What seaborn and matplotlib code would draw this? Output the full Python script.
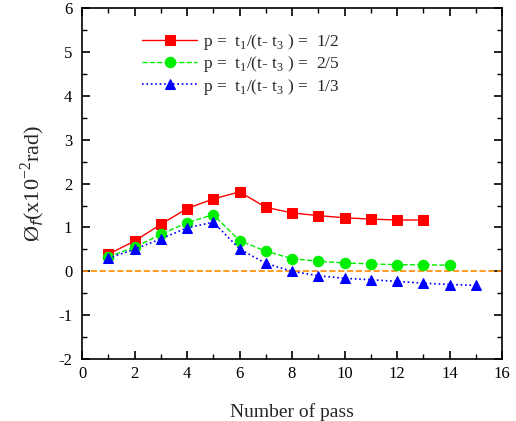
import numpy as np
import pandas as pd
import matplotlib
matplotlib.use("Agg")
import matplotlib.pyplot as plt
import seaborn as sns
from matplotlib.ticker import MultipleLocator

# Values
passes_half = list(range(1, 14))
phi_half = [0.39, 0.69, 1.07, 1.43, 1.65, 1.81, 1.46, 1.33, 1.27, 1.22, 1.19, 1.17, 1.17]

passes_two_fifth = list(range(1, 15))
phi_two_fifth = [0.33, 0.55, 0.84, 1.11, 1.29, 0.70, 0.46, 0.29, 0.23, 0.19, 0.17, 0.15, 0.15, 0.14]

passes_third = list(range(1, 16))
phi_third = [0.30, 0.50, 0.74, 0.99, 1.12, 0.51, 0.18, 0.00, -0.10, -0.16, -0.19, -0.23, -0.27, -0.30, -0.32]

labels = [r"p =  t$_1$/(t- t$_3$ ) =  1/2",
          r"p =  t$_1$/(t- t$_3$ ) =  2/5",
          r"p =  t$_1$/(t- t$_3$ ) =  1/3"]

sns.set_style("ticks")
plt.rcParams['font.family'] = ['Liberation Serif', 'DejaVu Serif']
plt.rcParams['mathtext.fontset'] = 'custom'
plt.rcParams['mathtext.rm'] = 'Liberation Serif'
plt.rcParams['axes.unicode_minus'] = False

fig = plt.figure(figsize=(5.16, 4.21), dpi=100)
ax = fig.add_axes([0.159, 0.147, 0.814, 0.834])

# Reference line at zero
ax.axhline(0, color="#ff8c00", linestyle="--", linewidth=1.2, zorder=1)

sns.lineplot(x=passes_half, y=phi_half, ax=ax, color="red", marker="s",
             markersize=7, markeredgecolor="red", linestyle="-", linewidth=1.0,
             label=labels[0])
sns.lineplot(x=passes_two_fifth, y=phi_two_fifth, ax=ax, color="#00ee00", marker="o",
             markersize=7.5, markeredgecolor="#00ee00", linestyle="--", linewidth=1.0,
             label=labels[1])
sns.lineplot(x=passes_third, y=phi_third, ax=ax, color="blue", marker="^",
             markersize=7.5, markeredgecolor="blue", linestyle=":", linewidth=1.2,
             label=labels[2])

ax.set_xlim(0, 16)
ax.set_ylim(-2, 6)
ax.xaxis.set_major_locator(MultipleLocator(2))
ax.xaxis.set_minor_locator(MultipleLocator(1))
ax.yaxis.set_major_locator(MultipleLocator(1))
ax.yaxis.set_minor_locator(MultipleLocator(0.5))
ax.tick_params(which="both", direction="in", top=True, right=True, labelsize=12, colors="black")
ax.tick_params(which="major", length=6, width=1.2)
ax.tick_params(which="minor", length=3.5, width=1.0)
for s in ax.spines.values():
    s.set_linewidth(1.2)
    s.set_color("black")
ax.tick_params(axis="x", pad=5)
ax.tick_params(axis="y", pad=7)

ax.set_xlabel("Number of pass", fontsize=14, labelpad=15)
ax.set_ylabel(r"Ø$_f$(x10$^{-2}$rad)", fontsize=16, labelpad=8)

ax.legend(loc="upper left", bbox_to_anchor=(0.105, 0.975), frameon=False,
          fontsize=12.5, handlelength=3.2, labelspacing=0.12, handletextpad=0.3)

fig.savefig("out.png", dpi=100, facecolor="white")
